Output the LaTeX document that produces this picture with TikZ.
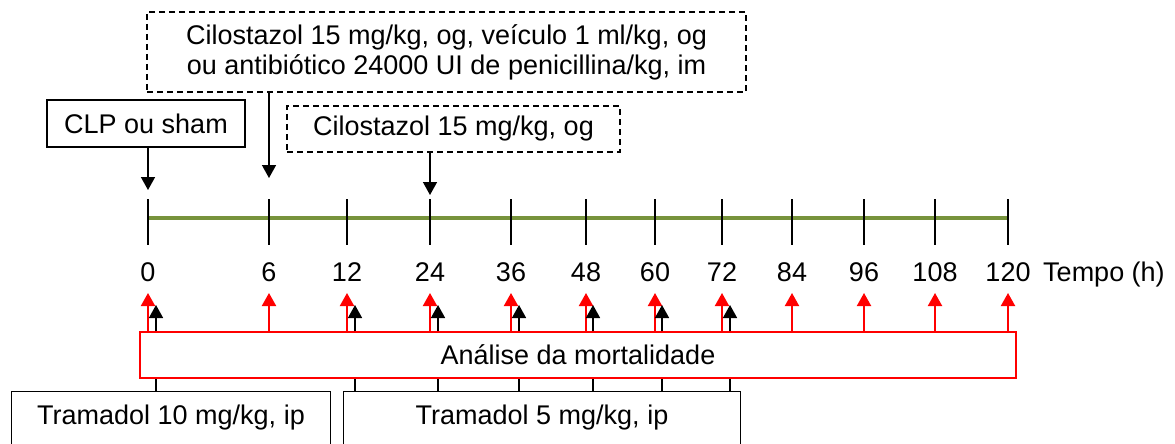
\documentclass[tikz,border=0pt]{standalone}
\usepackage{fontspec}
\setmainfont{Liberation Sans}
\usetikzlibrary{arrows.meta}
\definecolor{linegreen}{RGB}{119,147,60}
\begin{document}
\begin{tikzpicture}[x=1pt,y=-1pt, font=\fontsize{27}{30}\selectfont,
  box/.style={draw, line width=1.2pt, inner sep=0pt, align=center},
  dbox/.style={box, dash pattern=on 6pt off 4pt},
  blk/.style={line width=1.5pt, -{Triangle[width=14pt,length=13pt]}},
  redarr/.style={draw=red, line width=2pt, -{Triangle[width=14pt,length=13pt]}, red},
  tick/.style={line width=1.5pt},
  lab/.style={inner sep=0pt, anchor=base},
]
\useasboundingbox (0,0) rectangle (1175,444);

% upper boxes
\node[dbox, minimum width=599pt, minimum height=80pt] (cil1) at (446.5,52)
  {Cilostazol 15 mg/kg, og, veículo 1 ml/kg, og\\ou antibiótico 24000 UI de penicillina/kg, im};
\node[box, minimum width=198pt, minimum height=47pt] (clp) at (146,123.5) {CLP ou sham};
\node[dbox, minimum width=333pt, minimum height=46pt] (cil2) at (453.5,129) {Cilostazol 15 mg/kg, og};

% time axis
\foreach \n/\x in {t0/148, t6/269, t12/347, t24/430, t36/511, t48/586, t60/655, t72/722, t84/792, t96/864, t108/935, t120/1008}
  \coordinate (\n) at (\x,218);
\draw[linegreen, line width=3.5pt] (t0) -- (t120);
\foreach \n in {t0, t6, t12, t24, t36, t48, t60, t72, t84, t96, t108, t120}
  \draw[tick] ([yshift=19pt]\n) -- ([yshift=-27pt]\n);

% arrows from upper boxes
\coordinate (a0) at (148,190);
\coordinate (a6) at (269,178);
\coordinate (a24) at (430,195);
\draw[blk] (clp.south -| a0) -- (a0);
\draw[blk] (cil1.south -| a6) -- (a6);
\draw[blk] (cil2.south -| a24) -- (a24);

% tick labels
\foreach \n/\v in {t0/0, t6/6, t12/12, t24/24, t36/36, t48/48, t60/60, t72/72, t84/84, t96/96, t108/108, t120/120}
  \node[lab] (l\n) at ([yshift=-63pt]\n) {\v};
\node[lab, anchor=base west] (tempo) at (1043,281) {Tempo (h)};

% mortality box
\node[box, draw=red, line width=1.5pt, minimum width=876pt, minimum height=46pt] (mort) at (578,355) {Análise da mortalidade};

% red arrows
\foreach \n in {t0, t6, t12, t24, t36, t48, t60, t72, t84, t96, t108, t120}
  \draw[redarr] (mort.north -| \n) -- ([yshift=-75pt]\n);

% tramadol boxes (bottom edge outside the picture)
\node[inner sep=0pt, minimum width=318pt, minimum height=52pt] (tr10) at (171,418) {Tramadol 10 mg/kg, ip};
\node[inner sep=0pt, minimum width=396pt, minimum height=52pt] (tr5) at (542,418) {Tramadol 5 mg/kg, ip};
\draw[line width=1.2pt] (tr10.south west) -- (tr10.north west) -- (tr10.north east) -- (tr10.south east);
\draw[line width=1.2pt] (tr5.south west) -- (tr5.north west) -- (tr5.north east) -- (tr5.south east);

% black arrows (tramadol doses)
\foreach \x/\b in {156/tr10, 355/tr5, 438/tr5, 519/tr5, 593/tr5, 662/tr5, 730/tr5} {
  \draw[line width=1.5pt] (\b.north -| \x,0) -- (mort.south -| \x,0);
  \draw[blk] (mort.north -| \x,0) -- (\x,305);
}
\end{tikzpicture}
\end{document}
